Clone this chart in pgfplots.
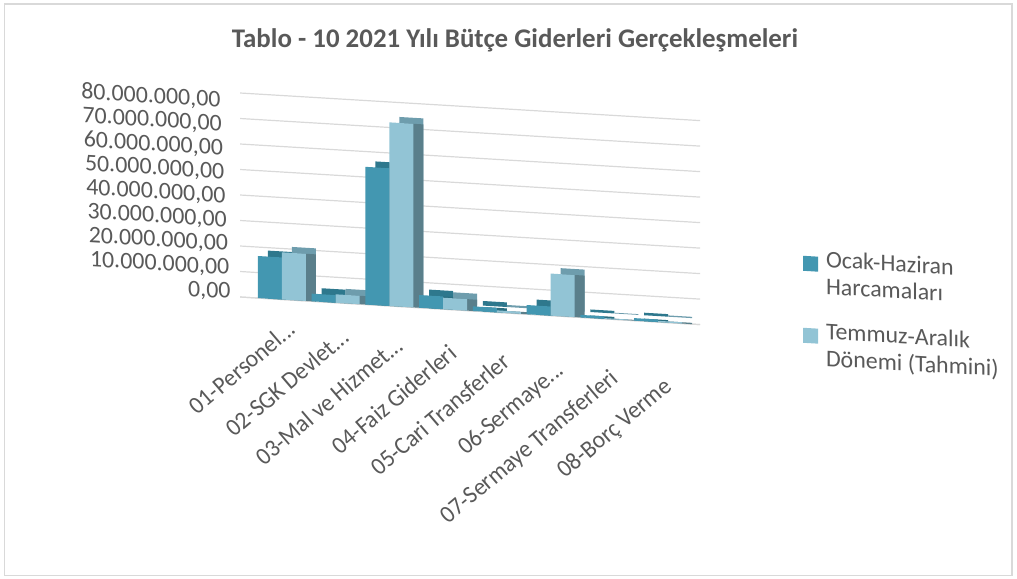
\documentclass[border=0pt]{standalone}
\usepackage{fontspec}
\setmainfont{Carlito}
\usepackage{pgfplots}
\pgfplotsset{compat=1.18}
\definecolor{ocak}{HTML}{4397B1}
\definecolor{ocakt}{HTML}{2E788D}
\definecolor{ocaks}{HTML}{2B6E80}
\definecolor{temm}{HTML}{92C4D5}
\definecolor{temmt}{HTML}{6E9DAD}
\definecolor{temms}{HTML}{5A7F8B}
\definecolor{txt}{HTML}{595959}
\definecolor{grd}{HTML}{D9D9D9}
\pgfplotstableread{
x ocak temm
0 16500000 18500000
1 3000000 3300000
2 54000000 72000000
3 5000000 4500000
4 1800000 800000
5 3600000 16500000
6 1000000 300000
7 1000000 500000
}\data
\newcommand{\dd}{.\kern0pt.\kern0pt.}
\begin{document}
\begin{tikzpicture}[x=1bp,y=1bp]
\path[use as bounding box] (0,0) rectangle (1017,579);
\draw[grd, line width=1.2bp] (4.5,3.5) rectangle (1012,575);
\node[font=\fontsize{27}{30}\selectfont\bfseries, text=txt] at (515,539) {Tablo - 10 2021 Yılı Bütçe Giderleri Gerçekleşmeleri};
\begin{scope}[shift={(240,282)}, yslant=-0.06]
\begin{axis}[
  at={(0,0)}, anchor=south west,
  scale only axis, width=460bp, height=204bp,
  xmin=-0.78, xmax=7.78, ymin=0, ymax=80000000,
  ytick={0,10000000,20000000,30000000,40000000,50000000,60000000,70000000,80000000},
  scaled y ticks=false,
  ticklabel style={font=\fontsize{24}{26}\selectfont, text=txt},
  yticklabel style={anchor=east, xshift={-6bp-1.25bp*\ticknum}, yshift={4bp-1.6bp*\ticknum}, /pgf/number format/.cd, fixed, fixed zerofill, precision=2, use comma, 1000 sep={.}, assume math mode=true},
  xtick={0,1,2,3,4,5,6,7},
  xticklabels={01-Personel\dd,02-SGK Devlet\dd,03-Mal ve Hizmet\dd,04-Faiz Giderleri,05-Cari Transferler,06-Sermaye\dd,07-Sermaye Transferleri,08-Borç Verme},
  xticklabel style={xshift=4bp, yshift={-19bp-4.9bp*\ticknum}, rotate=42, anchor=north east, inner sep=0pt},
  major tick length=0pt,
  ymajorgrids, grid style={grd, line width=1.2bp},
  axis y line*=left, y axis line style={draw=none},
  axis x line*=bottom, x axis line style={grd, line width=1.2bp},
  legend style={at={(1.217,0.42)}, anchor=north west, draw=none, fill=none,
    font=\fontsize{24}{27}\selectfont, text=txt, row sep=23bp,
    cells={align=left}},
  legend cell align=left,
  legend image code/.code={\fill[#1] (0bp,1bp) rectangle (15bp,16bp); \path (21bp,0bp);},
]
\addplot[ybar, bar width=24bp, bar shift=-12bp, fill=ocakt, draw=none, xshift=10bp, yshift=6bp, forget plot] table[x=x, y=ocak] {\data};
\addplot[ybar, bar width=24bp, bar shift=12bp, fill=temmt, draw=none, xshift=10bp, yshift=6bp, forget plot] table[x=x, y=temm] {\data};
\addplot[ybar, bar width=24bp, bar shift=-12bp, fill=ocaks, draw=none, xshift=10bp, forget plot] table[x=x, y=ocak] {\data};
\addplot[ybar, bar width=24bp, bar shift=12bp, fill=temms, draw=none, xshift=10bp, forget plot] table[x=x, y=temm] {\data};
\addplot[ybar, bar width=24bp, bar shift=-12bp, fill=ocak, draw=none] table[x=x, y=ocak] {\data};
\addlegendentry{Ocak-Haziran\\Harcamaları}
\addplot[ybar, bar width=24bp, bar shift=12bp, fill=temm, draw=none] table[x=x, y=temm] {\data};
\addlegendentry{Temmuz-Aralık\\Dönemi (Tahmini)}
\end{axis}
\end{scope}
\end{tikzpicture}
\end{document}
